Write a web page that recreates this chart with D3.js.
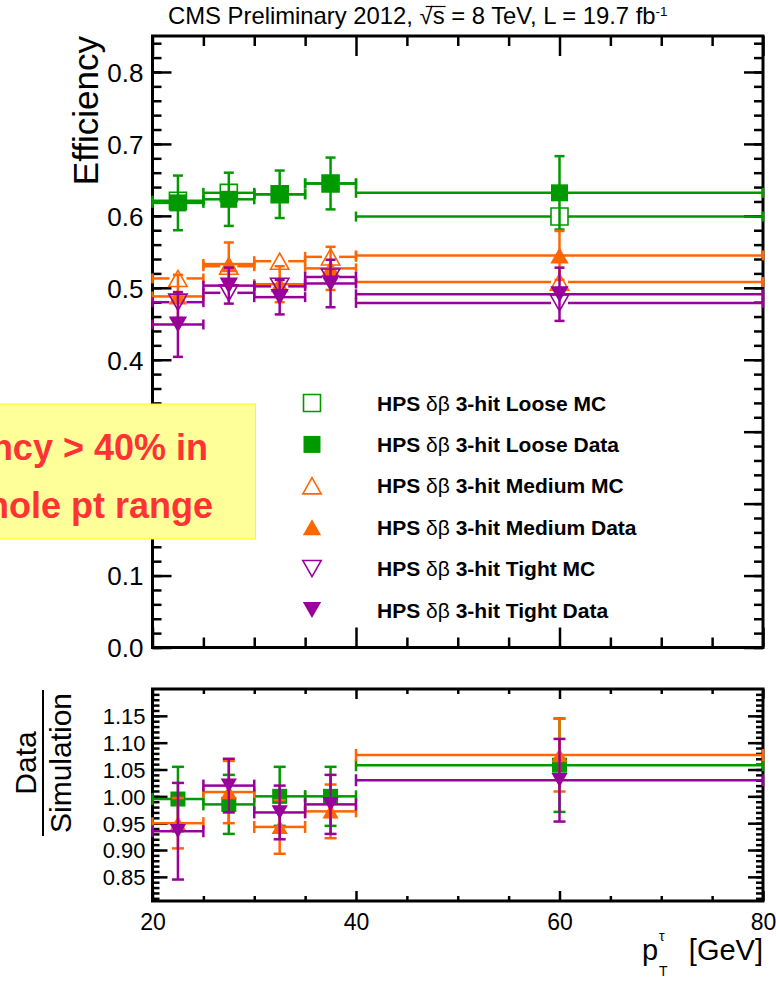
<!DOCTYPE html>
<head>
	<script src="https://d3js.org/d3.v7.min.js"></script>
	<style type="text/css">
		body { margin: 0; background: #fff; }
		svg { display: block; }
		text { font-family: "Liberation Sans", Arial, sans-serif; fill: #000; }
	</style>
</head>
<body>
	<div id="chart"></div>
</body>
<script>
	// bins in pT (GeV)
	var binLo = [20, 25, 30, 35, 40];
	var binHi = [25, 30, 35, 40, 80];
	var ptCenter = [22.5, 27.5, 32.5, 37.5, 60];

	// efficiencies, top panel
	var looseMC = [0.621, 0.632, 0.630, 0.645, 0.599];
	var looseMCErr = [0.004, 0.004, 0.004, 0.004, 0.003];
	var looseData = [0.618, 0.623, 0.630, 0.645, 0.632];
	var looseDataErr = [0.038, 0.037, 0.033, 0.036, 0.051];
	var mediumMC = [0.513, 0.530, 0.537, 0.543, 0.508];
	var mediumMCErr = [0.004, 0.004, 0.004, 0.004, 0.003];
	var mediumData = [0.488, 0.533, 0.505, 0.527, 0.545];
	var mediumDataErr = [0.030, 0.030, 0.025, 0.030, 0.034];
	var tightMC = [0.480, 0.493, 0.502, 0.515, 0.479];
	var tightMCErr = [0.004, 0.004, 0.004, 0.004, 0.003];
	var tightData = [0.449, 0.503, 0.487, 0.506, 0.491];
	var tightDataErr = [0.045, 0.025, 0.024, 0.033, 0.037];

	// data / simulation, bottom panel
	var ratioLoose = [0.995, 0.985, 1.000, 1.000, 1.058];
	var ratioLooseErr = [0.060, 0.055, 0.055, 0.055, 0.087];
	var ratioMedium = [0.950, 1.008, 0.943, 0.972, 1.077];
	var ratioMediumErr = [0.047, 0.058, 0.050, 0.050, 0.068];
	var ratioTight = [0.935, 1.020, 0.970, 0.985, 1.030];
	var ratioTightErr = [0.090, 0.050, 0.050, 0.055, 0.077];

	var legendWP = ["Loose MC", "Loose Data", "Medium MC", "Medium Data", "Tight MC", "Tight Data"];

	var xTicksMajor = [20, 40, 60, 80];
	var effTicks = [0.0, 0.1, 0.2, 0.3, 0.4, 0.5, 0.6, 0.7, 0.8];
	var ratioTicks = [0.85, 0.90, 0.95, 1.00, 1.05, 1.10, 1.15];

	var green = "#009900", orange = "#ff6600", purple = "#990099";

	var width = 776, height = 984;
	var svg = d3.select("#chart").append("svg")
		.attr("width", width)
		.attr("height", height);

	var x = d3.scaleLinear().domain([20, 80]).range([152.5, 763]);
	var yTop = d3.scaleLinear().domain([0, 0.85]).range([647.5, 36]);
	var yBot = d3.scaleLinear().domain([0.805, 1.2]).range([901, 689]);

	function range(start, stop, step) {
		return Array.from({ length: Math.round((stop - start) / step) + 1 }, (v, i) => +(start + i * step).toFixed(4));
	};

	function markerPath(shape, s) {
		if (shape == "square") return `M${-s/2},${-s/2}h${s}v${s}h${-s}Z`;
		var w = s * 1.08, h = s * 0.95;
		if (shape == "up") return `M0,${-h/2}L${w/2},${h/2}L${-w/2},${h/2}Z`;
		return `M0,${h/2}L${w/2},${-h/2}L${-w/2},${-h/2}Z`;
	}

	// ticks on all four sides, pointing inward
	function drawFrame(y, yMajor, yMinor, yLabels, opt) {
		var g = svg.append("g");
		var x0 = x.range()[0], x1 = x.range()[1];
		var yb = y.range()[0], yt = y.range()[1];
		var xMinor = range(20, 80, 5).filter(d => xTicksMajor.indexOf(d) < 0);

		function ax(axis, tx, ty, vals, len, fmt) {
			var a = g.append("g").attr("transform", `translate(${tx},${ty})`)
				.call(axis.tickValues(vals).tickSizeInner(-len).tickSizeOuter(0).tickPadding(opt.pad).tickFormat(fmt));
			a.select(".domain").remove();
			a.selectAll("line").attr("stroke", "#000").attr("stroke-width", 2.5);
			return a;
		}
		var none = () => "";
		var bottom = ax(d3.axisBottom(x), 0, yb, xTicksMajor, opt.xMajor, yLabels ? d3.format("d") : none);
		bottom.selectAll("text").style("font-size", "23px").attr("dy", "0.95em");
		ax(d3.axisBottom(x), 0, yb, xMinor, opt.xMinor, none);
		ax(d3.axisTop(x), 0, yt, xTicksMajor, opt.xMajor, none);
		ax(d3.axisTop(x), 0, yt, xMinor, opt.xMinor, none);
		var left = ax(d3.axisLeft(y), x0, 0, yMajor, opt.yMajor, opt.fmt);
		left.selectAll("text").style("font-size", opt.labelSize).attr("dy", "0.36em");
		ax(d3.axisLeft(y), x0, 0, yMinor, opt.yMinor, none);
		ax(d3.axisRight(y), x1, 0, yMajor, opt.yMajor, none);
		ax(d3.axisRight(y), x1, 0, yMinor, opt.yMinor, none);

		g.append("rect")
			.attr("x", x0).attr("y", yt)
			.attr("width", x1 - x0).attr("height", yb - yt)
			.attr("fill", "none").attr("stroke", "#000").attr("stroke-width", 3);
	}

	function drawSeries(y, vals, errs, color, shape, filled, size, cap) {
		var g = svg.append("g")
			.attr("stroke", color).attr("stroke-width", 2.5).attr("fill", "none");
		vals.forEach((v, i) => {
			var cx = x(ptCenter[i]), cy = y(v);
			var xa = x(binLo[i]), xb = x(binHi[i]);
			var gap = filled ? 0 : size / 2;
			var ya = y(v + errs[i]), yb = y(v - errs[i]);
			var segs = [[xa, cy, cx - gap, cy], [cx + gap, cy, xb, cy],
				[xa, cy - cap / 2, xa, cy + cap / 2], [xb, cy - cap / 2, xb, cy + cap / 2]];
			if (ya < cy - size / 2) {
				segs.push([cx, ya, cx, cy - gap], [cx, cy + gap, cx, yb],
					[cx - cap / 2, ya, cx + cap / 2, ya], [cx - cap / 2, yb, cx + cap / 2, yb]);
			}
			segs.forEach(s => g.append("line")
				.attr("x1", s[0]).attr("y1", s[1]).attr("x2", s[2]).attr("y2", s[3]));
			g.append("path")
				.attr("d", markerPath(shape, size))
				.attr("transform", `translate(${cx},${cy})`)
				.attr("fill", filled ? color : "none")
				.attr("stroke-width", filled ? 0 : 1.6);
		});
	}

	// ---------- top panel ----------
	drawFrame(yTop, effTicks, range(0, 0.84, 0.02), false,
		{ xMajor: 20, xMinor: 10, yMajor: 19, yMinor: 9, pad: 9, labelSize: "26px", fmt: d3.format(".1f") });

	drawSeries(yTop, looseMC, looseMCErr, green, "square", false, 17, 10);
	drawSeries(yTop, looseData, looseDataErr, green, "square", true, 17, 10);
	drawSeries(yTop, mediumMC, mediumMCErr, orange, "up", false, 17, 10);
	drawSeries(yTop, mediumData, mediumDataErr, orange, "up", true, 17, 10);
	drawSeries(yTop, tightMC, tightMCErr, purple, "down", false, 17, 10);
	drawSeries(yTop, tightData, tightDataErr, purple, "down", true, 17, 10);

	svg.append("text")
		.attr("transform", "translate(98,36) rotate(-90)")
		.attr("text-anchor", "end")
		.style("font-size", "35px")
		.text("Efficiency");

	// title
	var title = svg.append("g");
	var tt = title.append("text")
		.style("font-family", "'Liberation Sans Narrow', 'Liberation Sans', Arial, sans-serif")
		.style("font-size", "23px");
	tt.append("tspan").text("CMS Preliminary 2012, \u221as = 8 TeV, L = 19.7 fb");
	tt.append("tspan").attr("dy", -8).style("font-size", "13px").text("-1");
	var tw = tt.node().getComputedTextLength();
	title.attr("transform", `translate(168,24) scale(${500 / tw},1)`);
	var sIdx = "CMS Preliminary 2012, \u221a".length;
	var rootStart = tt.node().getStartPositionOfChar(sIdx - 1).x;
	var sEnd = tt.node().getEndPositionOfChar(sIdx).x;
	title.append("line")
		.attr("x1", rootStart + 6).attr("x2", sEnd + 1)
		.attr("y1", -17.5).attr("y2", -17.5)
		.attr("stroke", "#000").attr("stroke-width", 1.2);

	// legend
	var legendMarks = [
		{ color: green, shape: "square", filled: false },
		{ color: green, shape: "square", filled: true },
		{ color: orange, shape: "up", filled: false },
		{ color: orange, shape: "up", filled: true },
		{ color: purple, shape: "down", filled: false },
		{ color: purple, shape: "down", filled: true }];
	var legendY = d3.scalePoint().domain(legendWP).range([403, 610]);
	var leg = svg.append("g");
	legendWP.forEach((lab, i) => {
		var m = legendMarks[i];
		leg.append("path")
			.attr("d", markerPath(m.shape, 17))
			.attr("transform", `translate(312,${legendY(lab)})`)
			.attr("fill", m.filled ? m.color : "none")
			.attr("stroke", m.color)
			.attr("stroke-width", m.filled ? 0 : 1.6);
		var t = leg.append("text")
			.attr("x", 377).attr("y", legendY(lab))
			.attr("dy", "0.36em")
			.style("font-size", "21px").style("font-weight", "bold");
		t.append("tspan").text("HPS ");
		t.append("tspan").style("font-weight", "normal").text("\u03b4\u03b2");
		t.append("tspan").text(" 3-hit " + lab);
	});

	// ---------- bottom panel ----------
	drawFrame(yBot, ratioTicks, range(0.81, 1.19, 0.01), true,
		{ xMajor: 10, xMinor: 5, yMajor: 15, yMinor: 7, pad: 7, labelSize: "22px", fmt: d3.format(".2f") });

	drawSeries(yBot, ratioLoose, ratioLooseErr, green, "square", true, 15, 12);
	drawSeries(yBot, ratioMedium, ratioMediumErr, orange, "up", true, 15, 12);
	drawSeries(yBot, ratioTight, ratioTightErr, purple, "down", true, 15, 12);

	var frac = svg.append("g").attr("transform", "translate(0,763)");
	frac.append("text")
		.attr("transform", "translate(36,0) rotate(-90)")
		.attr("text-anchor", "middle")
		.style("font-size", "30px")
		.text("Data");
	frac.append("line")
		.attr("x1", 43).attr("x2", 43).attr("y1", -73).attr("y2", 73)
		.attr("stroke", "#000").attr("stroke-width", 2);
	frac.append("text")
		.attr("transform", "translate(71,0) rotate(-90)")
		.attr("text-anchor", "middle")
		.style("font-size", "30px")
		.text("Simulation");

	// x axis title
	var xt = svg.append("g").style("font-size", "29px");
	xt.append("text").attr("x", 642).attr("y", 960).text("p");
	xt.append("text").attr("x", 659).attr("y", 941).style("font-size", "14px").text("\u03c4");
	xt.append("text").attr("x", 659).attr("y", 976).style("font-size", "14px").text("T");
	xt.append("text").attr("x", 763).attr("y", 960).attr("text-anchor", "end").text("[GeV]");

	// highlighted note on top
	var note = svg.append("g")
		.style("font-family", "Lato, 'DejaVu Sans', sans-serif").style("font-weight", "bold")
		.style("font-size", "36px");
	note.append("rect")
		.attr("x", -10).attr("y", 404)
		.attr("width", 265.5).attr("height", 135)
		.attr("fill", "#ffff99").attr("stroke", "#ffff00").attr("stroke-width", 1);
	note.append("text")
		.attr("x", 208).attr("y", 460).attr("text-anchor", "end")
		.style("fill", "#ff3333")
		.text("Efficiency > 40% in");
	note.append("text")
		.attr("x", 213).attr("y", 518).attr("text-anchor", "end")
		.style("fill", "#ff3333")
		.text("the whole pt range");
</script>
